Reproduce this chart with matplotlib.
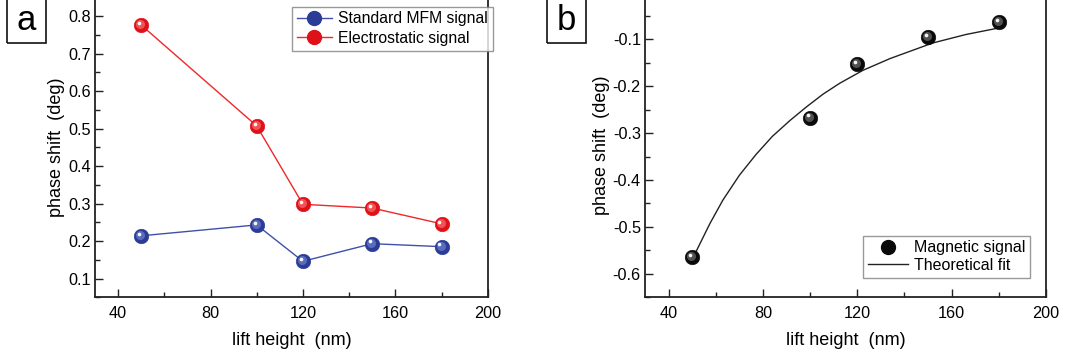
import matplotlib
matplotlib.use("Agg")
import matplotlib.pyplot as plt
from matplotlib.ticker import MultipleLocator, FixedLocator, FormatStrFormatter
from matplotlib.patches import Rectangle
from matplotlib.lines import Line2D
import matplotlib.transforms as mtrans

plt.rcParams['font.family'] = ['Liberation Sans', 'DejaVu Sans']
plt.rcParams['axes.unicode_minus'] = False

# ---------------- data ----------------
lift_a = [50, 100, 120, 150, 180]
mfm_signal = [0.214, 0.243, 0.146, 0.193, 0.185]
electro_signal = [0.776, 0.507, 0.298, 0.288, 0.246]

lift_b = [50, 100, 120, 150, 180]
magnetic_signal = [-0.565, -0.267, -0.153, -0.096, -0.063]

fit_x = [50, 52, 57.5, 63, 70, 77, 84, 91.5, 98.5, 105.5, 112.5, 122.5, 134, 152, 166, 180]
fit_y = [-0.570, -0.549, -0.493, -0.443, -0.390, -0.346, -0.307, -0.273, -0.244,
         -0.217, -0.194, -0.166, -0.141, -0.108, -0.090, -0.076]

xticks = [40, 80, 120, 160, 200]
yticks_a = [0.1, 0.2, 0.3, 0.4, 0.5, 0.6, 0.7, 0.8]
yticks_b = [-0.6, -0.5, -0.4, -0.3, -0.2, -0.1]
labels_a = ["Standard MFM signal", "Electrostatic signal"]
labels_b = ["Magnetic signal", "Theoretical fit"]
xlabel = "lift height  (nm)"
ylabel = "phase shift  (deg)"

# ---------------- figure ----------------
W, H = 1069, 360
fig = plt.figure(figsize=(W / 100, H / 100), dpi=100)

def frac_box(left, right, bottom_px, top_px):
    return [left / W, 1 - bottom_px / H, (right - left) / W, (bottom_px - top_px) / H]

ax1 = fig.add_axes(frac_box(95, 487.7, 297.3, -2.7))
ax2 = fig.add_axes(frac_box(645, 1046, 297.3, -7.7))

spine_col = '#222222'

def style(ax, yticks):
    for s in ax.spines.values():
        s.set_linewidth(1.3)
        s.set_color(spine_col)
    ax.tick_params(which='both', direction='in', top=False, right=False,
                   color=spine_col, width=1.0, labelsize=11.7)
    ax.tick_params(which='major', length=6)
    ax.tick_params(which='minor', length=3.5)
    ax.tick_params(axis='x', pad=6)
    ax.tick_params(axis='y', pad=3)
    ax.set_xlim(30, 200)
    ax.set_xticks(xticks)
    ax.xaxis.set_minor_locator(MultipleLocator(20))
    ax.yaxis.set_major_locator(FixedLocator(yticks))
    ax.yaxis.set_minor_locator(MultipleLocator(0.05))
    ax.yaxis.set_major_formatter(FormatStrFormatter('%.1f'))
    ax.set_xlabel(xlabel, fontsize=13, labelpad=8)
    ax.set_ylabel(ylabel, fontsize=13, labelpad=2)

style(ax1, yticks_a)
style(ax2, yticks_b)
ax1.set_ylim(0.05, 0.85)
ax2.set_ylim(-0.65, 0.0)


def sphere(ax, x, y, base, mid, ms=10.5, z=3):
    ax.plot(x, y, 'o', ms=ms, mfc=base, mec=base, mew=0.4, zorder=z)
    off1 = mtrans.offset_copy(ax.transData, fig=fig, x=-0.7, y=0.7, units='points')
    ax.plot(x, y, 'o', ms=ms * 0.62, mfc=mid, mec='none', alpha=0.75,
            transform=off1, zorder=z + 0.1)
    off2 = mtrans.offset_copy(ax.transData, fig=fig, x=-1.5, y=1.6, units='points')
    ax.plot(x, y, 'o', ms=ms * 0.25, mfc='white', mec='none', alpha=0.95,
            transform=off2, zorder=z + 0.2)


blue_line = '#4050A8'
red_line = '#F02828'
ax1.plot(lift_a, mfm_signal, '-', color=blue_line, lw=1.0, zorder=2)
ax1.plot(lift_a, electro_signal, '-', color=red_line, lw=1.0, zorder=2)
sphere(ax1, lift_a, mfm_signal, '#2A3C95', '#6C7CC8')
sphere(ax1, lift_a, electro_signal, '#E01018', '#F56A6A')

h1 = Line2D([], [], color=blue_line, lw=1.0, marker='o', ms=10, mfc='#2A3C95', mec='#2A3C95')
h2 = Line2D([], [], color=red_line, lw=1.0, marker='o', ms=10, mfc='#E01018', mec='#E01018')
leg1 = ax1.legend([h1, h2], labels_a, loc='upper left',
                  bbox_to_anchor=(292 / W, 1 - 6.7 / H), bbox_transform=fig.transFigure,
                  fontsize=11.3, frameon=True, fancybox=False, edgecolor='#808080',
                  handlelength=2.25, handletextpad=0.4, labelspacing=0.28,
                  borderpad=0.3, borderaxespad=0)
leg1.get_frame().set_linewidth(1.0)

ax2.plot(fit_x, fit_y, '-', color='#222222', lw=1.0, zorder=2)
sphere(ax2, lift_b, magnetic_signal, '#0A0A0A', '#6A6A6A')

h3 = Line2D([], [], ls='none', marker='o', ms=10, mfc='#0A0A0A', mec='#0A0A0A')
h4 = Line2D([], [], color='#222222', lw=1.0)
leg2 = ax2.legend([h3, h4], labels_b, loc='upper left',
                  bbox_to_anchor=(863 / W, 1 - 235.7 / H), bbox_transform=fig.transFigure,
                  fontsize=11.5, frameon=True, fancybox=False, edgecolor='#808080',
                  handlelength=2.5, handletextpad=0.4, labelspacing=0.15,
                  borderpad=0.3, borderaxespad=0)
leg2.get_frame().set_linewidth(1.0)

# panel letters
for (x0, x1, letter) in [(6.7, 45.7, 'a'), (547.3, 586.0, 'b')]:
    fig.add_artist(Rectangle((x0 / W, 1 - 42.7 / H), (x1 - x0) / W, 0.2,
                             transform=fig.transFigure, fill=False,
                             edgecolor='#111111', lw=1.2))
    fig.text((x0 + x1) / 2 / W, 1 - 20 / H, letter, fontsize=25,
             ha='center', va='center')

fig.savefig('out.png', dpi=100)
